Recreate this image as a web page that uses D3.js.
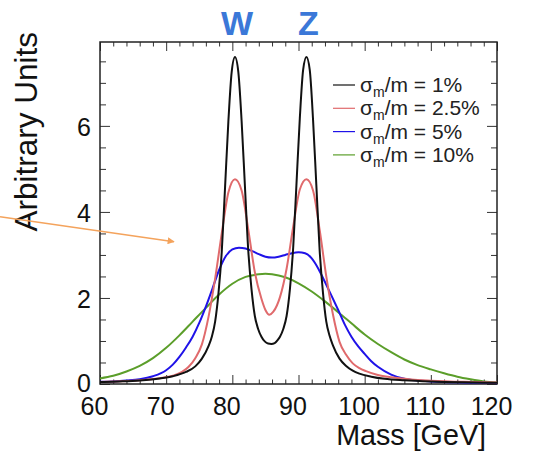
<!DOCTYPE html>
<html>
<head>
<meta charset="utf-8">
<script src="https://cdn.jsdelivr.net/npm/d3@7"></script>
<style>
  body { margin: 0; background: #fff; }
  svg { display: block; font-family: "Liberation Sans", Arial, Helvetica, sans-serif; }
</style>
</head>
<body>
<script>
// curves: [mass GeV, arbitrary units]
const res1 = [
  [60, 0.045], [63, 0.06], [66, 0.083], [69, 0.127], [71, 0.18], [73, 0.28],
  [74.4, 0.41], [75.4, 0.59], [76.4, 0.88], [76.9, 1.1], [77.4, 1.45], [77.9, 2.1],
  [78.4, 3.07], [78.9, 4.57], [79.4, 6.1], [79.9, 7.25], [80.4, 7.6], [80.9, 7.26],
  [81.4, 6.12], [81.9, 4.61], [82.4, 3.12], [82.9, 2.2], [83.4, 1.58], [83.9, 1.28],
  [84.4, 1.1], [84.9, 0.99], [85.4, 0.94], [85.9, 0.93], [86.4, 0.95], [86.9, 1.03],
  [87.2, 1.1], [87.7, 1.28], [88.2, 1.58], [88.7, 2.2], [89.2, 3.18], [89.7, 4.67],
  [90.2, 6.18], [90.7, 7.3], [91.2, 7.6], [91.7, 7.3], [92.2, 6.14], [92.7, 4.61],
  [93.2, 3.1], [93.7, 2.12], [94.2, 1.45], [94.7, 1.12], [95.2, 0.9], [96.2, 0.59],
  [97.2, 0.42], [98.2, 0.31], [99.2, 0.24], [101, 0.17], [103, 0.12], [106, 0.085],
  [110, 0.057], [115, 0.038], [120, 0.028]
];
const res25 = [
  [60, 0.047], [63, 0.062], [66, 0.087], [69, 0.135], [71, 0.19], [72.4, 0.28],
  [73.4, 0.4], [74.4, 0.6], [75.4, 0.92], [76.4, 1.56], [77.4, 2.45], [78.4, 3.5],
  [79.4, 4.45], [80.4, 4.76], [81.4, 4.5], [82.4, 3.6], [83.4, 2.6], [84.4, 1.98],
  [85, 1.72], [85.6, 1.61], [86.2, 1.68], [87.2, 2.02], [88.2, 2.68], [89.2, 3.66],
  [90.2, 4.52], [91.2, 4.76], [92.2, 4.5], [93.2, 3.58], [94.2, 2.5], [95.2, 1.62],
  [96.2, 0.98], [97.2, 0.68], [98.2, 0.48], [99.2, 0.37], [100.2, 0.3], [102, 0.21],
  [104, 0.155], [107, 0.105], [110, 0.078], [115, 0.05], [120, 0.035]
];
const res5 = [
  [60, 0.05], [62, 0.06], [64, 0.08], [66, 0.11], [68, 0.18], [70, 0.32], [71, 0.45],
  [72, 0.63], [73, 0.85], [74, 1.1], [75, 1.42], [76, 1.8], [77, 2.22], [78, 2.65],
  [79, 2.97], [80, 3.13], [81, 3.17], [82, 3.15], [83, 3.09], [84, 3.02], [85, 2.96],
  [86, 2.94], [87, 2.96], [88, 3.0], [89, 3.04], [90, 3.06], [91, 3.04], [92, 2.92],
  [93, 2.68], [94, 2.37], [95, 2.05], [96, 1.72], [97, 1.38], [98, 1.1], [99, 0.88],
  [100, 0.7], [101, 0.53], [102, 0.4], [104, 0.22], [106, 0.12], [108, 0.08],
  [110, 0.06], [115, 0.035], [120, 0.02]
];
const res10 = [
  [60, 0.13], [62, 0.19], [64, 0.29], [66, 0.42], [68, 0.6], [70, 0.84], [72, 1.13],
  [74, 1.45], [76, 1.77], [78, 2.08], [80, 2.33], [82, 2.49], [84, 2.55], [85, 2.56],
  [86, 2.55], [88, 2.48], [90, 2.34], [92, 2.15], [94, 1.92], [96, 1.67], [98, 1.41],
  [100, 1.15], [102, 0.93], [104, 0.74], [106, 0.57], [108, 0.44], [110, 0.34],
  [112, 0.25], [114, 0.17], [116, 0.11], [118, 0.06], [120, 0.03]
];

const seriesNames = ["1%", "2.5%", "5%", "10%"];
const seriesData = [res1, res25, res5, res10];
const seriesColors = ["#111111", "#e06a6c", "#1f12e8", "#5b9e2a"];

const xTicks = [60, 70, 80, 90, 100, 110, 120];
const yTicks = [0, 2, 4, 6];
const peakLabels = [["W", 80.4], ["Z", 91.2]];

// layout
const w = 534;
const h = 451;

const svg = d3.select("body").append("svg").attr("width", w).attr("height", h);

const x = d3.scaleLinear().domain([60, 120]).range([100, 497]);
const y = d3.scaleLinear().domain([0, 7.95]).range([384, 42]);

const xMinor = d3.range(60, 121, 2).filter((d) => d % 10 !== 0);
const yMinor = d3.range(0, 8, 0.5).filter((d) => d % 2 !== 0);

const tickCol = "#333";

function styleAxis(g) {
  g.select(".domain").remove();
  g.selectAll("line").attr("stroke", tickCol);
}

// bottom
svg.append("g").attr("transform", `translate(0,384)`)
  .call(d3.axisBottom(x).tickValues(xMinor).tickSize(-4.5).tickFormat(""))
  .call(styleAxis);
svg.append("g").attr("transform", `translate(0,384)`)
  .call(d3.axisBottom(x).tickValues(xTicks).tickSize(-9).tickPadding(13))
  .call(styleAxis)
  .call((g) => g.selectAll("text").attr("dx", -6).attr("font-size", 25)
    .attr("fill", "#111").attr("font-family", "Liberation Sans, Arial, sans-serif"));
// top
svg.append("g").attr("transform", `translate(0,42)`)
  .call(d3.axisTop(x).tickValues(xMinor).tickSize(-4.5).tickFormat(""))
  .call(styleAxis);
svg.append("g").attr("transform", `translate(0,42)`)
  .call(d3.axisTop(x).tickValues(xTicks).tickSize(-9).tickFormat(""))
  .call(styleAxis);
// left
svg.append("g").attr("transform", `translate(100,0)`)
  .call(d3.axisLeft(y).tickValues(yMinor).tickSize(-6).tickFormat(""))
  .call(styleAxis);
svg.append("g").attr("transform", `translate(100,0)`)
  .call(d3.axisLeft(y).tickValues(yTicks).tickSize(-10).tickPadding(9))
  .call(styleAxis)
  .call((g) => g.selectAll("text").attr("font-size", 25)
    .attr("dy", (d) => (d === 0 ? "0.3em" : "0.38em"))
    .attr("fill", "#111").attr("font-family", "Liberation Sans, Arial, sans-serif"));
// right
svg.append("g").attr("transform", `translate(497,0)`)
  .call(d3.axisRight(y).tickValues(yMinor).tickSize(-6).tickFormat(""))
  .call(styleAxis);
svg.append("g").attr("transform", `translate(497,0)`)
  .call(d3.axisRight(y).tickValues(yTicks).tickSize(-10).tickFormat(""))
  .call(styleAxis);

// frame
svg.append("rect")
  .attr("x", x(60)).attr("y", y(7.95))
  .attr("width", x(120) - x(60)).attr("height", y(0) - y(7.95))
  .attr("fill", "none").attr("stroke", "#222").attr("stroke-width", 1.5);

// curves
const line = d3.line()
  .x((d) => x(d[0]))
  .y((d) => y(d[1]))
  .curve(d3.curveMonotoneX);

svg.append("g").selectAll("path")
  .data(seriesData.slice().reverse())
  .join("path")
  .attr("d", line)
  .attr("fill", "none")
  .attr("stroke", (d, i) => seriesColors[seriesData.length - 1 - i])
  .attr("stroke-width", 2);

// legend
const legend = svg.append("g");
seriesNames.forEach((name, i) => {
  const ly = 85 + i * 23.3;
  legend.append("line")
    .attr("x1", 333).attr("x2", 355).attr("y1", ly).attr("y2", ly)
    .attr("stroke", seriesColors[i]).attr("stroke-width", 1.2);
  const t = legend.append("text")
    .attr("x", 360).attr("y", ly + 7)
    .attr("font-size", 21).attr("fill", "#222");
  t.append("tspan").text("σ");
  t.append("tspan").attr("font-size", 14).attr("dy", 5).text("m");
  t.append("tspan").attr("dy", -5).text(`/m = ${name}`);
});

// axis titles
svg.append("text")
  .attr("x", 486).attr("y", 445)
  .attr("text-anchor", "end")
  .attr("font-size", 28.7).attr("fill", "#111")
  .text("Mass [GeV]");

svg.append("text")
  .attr("transform", "translate(37,32) rotate(-90)")
  .attr("text-anchor", "end")
  .attr("font-size", 31.5).attr("fill", "#111")
  .text("Arbitrary Units");

// W / Z labels
svg.append("g").selectAll("text")
  .data(peakLabels)
  .join("text")
  .attr("x", (d) => x(d[1]) + 2)
  .attr("y", 35)
  .attr("text-anchor", "middle")
  .attr("font-size", 34).attr("font-weight", "bold")
  .attr("fill", "#3b78d8")
  .text((d) => d[0]);

// annotation arrow
const defs = svg.append("defs");
defs.append("marker")
  .attr("id", "head")
  .attr("viewBox", "0 0 10 10")
  .attr("refX", 9).attr("refY", 5)
  .attr("markerWidth", 9).attr("markerHeight", 7)
  .attr("markerUnits", "userSpaceOnUse")
  .attr("orient", "auto")
  .append("path").attr("d", "M0,0L10,5L0,10Z").attr("fill", "#f4a35c");

svg.append("line")
  .attr("x1", 0).attr("y1", 216.7)
  .attr("x2", 174).attr("y2", 241.7)
  .attr("stroke", "#f4a35c").attr("stroke-width", 1.6)
  .attr("marker-end", "url(#head)");
</script>
</body>
</html>
